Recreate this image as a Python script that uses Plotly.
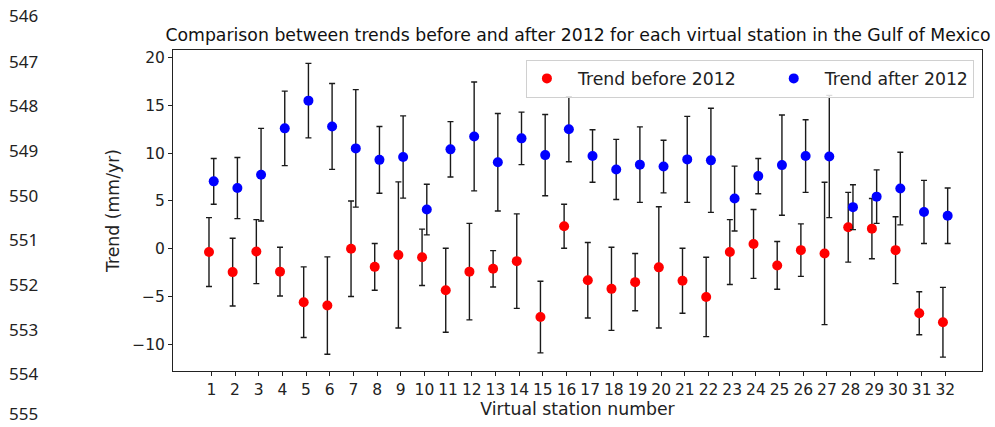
import plotly.graph_objects as go

stations = list(range(1, 33))
before = [-0.35, -2.45, -0.3, -2.4, -5.6, -5.95, 0.0, -1.9, -0.65, -0.9, -4.35, -2.4, -2.1, -1.3, -7.15, 2.35,
          -3.3, -4.2, -3.5, -1.95, -3.35, -5.05, -0.35, 0.5, -1.75, -0.15, -0.5, 2.25, 2.1, -0.15, -6.75, -7.7]
before_err = [3.6, 3.55, 3.35, 2.55, 3.7, 5.1, 5.0, 2.45, 7.65, 2.95, 4.4, 5.05, 1.9, 4.95, 3.75, 2.3,
              3.95, 4.35, 3.0, 6.35, 3.4, 4.15, 3.4, 3.6, 2.5, 2.75, 7.45, 3.65, 3.15, 3.5, 2.25, 3.65]
after = [7.05, 6.35, 7.75, 12.6, 15.5, 12.8, 10.5, 9.3, 9.6, 4.1, 10.4, 11.75, 9.05, 11.55, 9.8, 12.5,
         9.7, 8.3, 8.8, 8.6, 9.35, 9.25, 5.25, 7.6, 8.75, 9.7, 9.65, 4.35, 5.45, 6.3, 3.85, 3.45]
after_err = [2.4, 3.2, 4.85, 3.9, 3.9, 4.5, 6.15, 3.5, 4.3, 2.65, 2.9, 5.7, 5.1, 2.75, 4.25, 3.4,
             2.75, 3.15, 3.95, 2.75, 4.5, 5.45, 3.4, 1.85, 5.25, 3.8, 6.4, 2.35, 2.8, 3.8, 3.3, 2.9]
line_numbers = [546, 547, 548, 549, 550, 551, 552, 553, 554, 555]

offset = 0.1
x_before = [s - offset for s in stations]
x_after = [s + offset for s in stations]

err_style = dict(type="data", visible=True, color="#1a1a1a", thickness=1.4, width=3)
nb = "\u00a0"

fig = go.Figure()
fig.add_trace(go.Scatter(
    x=x_before, y=before, mode="markers", name=nb * 2 + "Trend before 2012" + nb * 6,
    marker=dict(color="red", size=10),
    error_y=dict(array=before_err, **err_style),
))
fig.add_trace(go.Scatter(
    x=x_after, y=after, mode="markers", name=nb * 2 + "Trend after 2012",
    marker=dict(color="blue", size=10),
    error_y=dict(array=after_err, **err_style),
))

font = "DejaVu Sans, sans-serif"
fig.update_layout(
    width=995, height=427,
    margin=dict(l=173, r=12, t=50, b=54),
    plot_bgcolor="white", paper_bgcolor="white",
    font=dict(family=font, size=15.5, color="#222"),
    title=dict(text="Comparison between trends before and after 2012 for each virtual station in the Gulf of Mexico",
               x=(173 + 983) / 2 / 995, xanchor="center", y=1 - 35 / 427, yanchor="middle",
               font=dict(family=font, size=17.3, color="#111")),
    showlegend=True,
    legend=dict(orientation="h", x=0.99, xanchor="right", y=0.97, yanchor="top",
                bgcolor="rgba(255,255,255,0.85)", bordercolor="#d0d0d0", borderwidth=1,
                font=dict(family=font, size=17.3, color="#222"), itemwidth=30),
)
fig.update_xaxes(
    range=[-0.62, 33.55], tickmode="array", tickvals=stations, ticktext=[str(s) for s in stations],
    showline=True, linecolor="#222", linewidth=1, mirror=True, showgrid=False, zeroline=False,
    ticks="outside", ticklen=4, tickcolor="#222", tickfont=dict(size=15.5),
    title=dict(text="Virtual station number", font=dict(size=17.3), standoff=4),
)
fig.update_yaxes(
    range=[-12.8, 20.8], tickmode="array", tickvals=[-10, -5, 0, 5, 10, 15, 20],
    ticktext=["\u221210", "\u22125", "0", "5", "10", "15", "20"],
    showline=True, linecolor="#222", linewidth=1, mirror=True, showgrid=False, zeroline=False,
    ticks="outside", ticklen=4, tickcolor="#222", tickfont=dict(size=15.5),
    title=dict(text="Trend (mm/yr)", font=dict(size=17.3), standoff=8),
)

ln_y = [15, 61.5, 106, 151.5, 196.5, 240.5, 286, 331, 376, 416]
for n, yy in zip(line_numbers, ln_y):
    fig.add_annotation(text=str(n), xref="paper", yref="paper",
                       x=(7 - 173) / 810, xanchor="left",
                       y=(427 - 54 - yy) / 323, yanchor="middle",
                       showarrow=False, font=dict(family="Noto Sans, sans-serif", size=17, color="#222"))

fig.write_html("out.html")
